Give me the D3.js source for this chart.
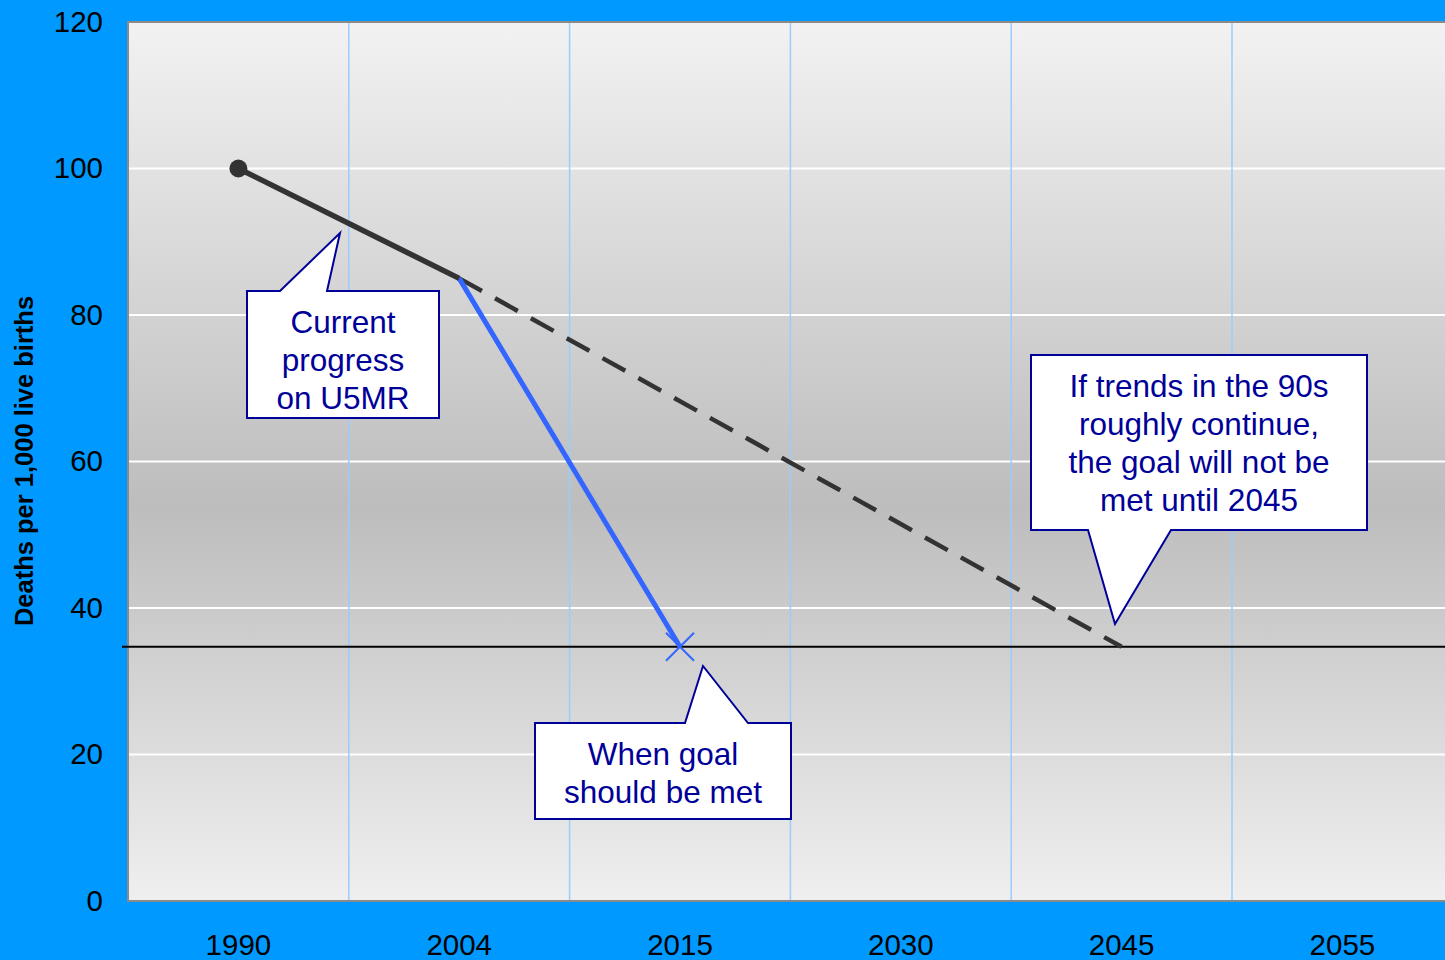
<!DOCTYPE html>
<html>
<head>
<meta charset="utf-8">
<script src="https://cdn.jsdelivr.net/npm/d3@7"></script>
<style>
  html, body { margin: 0; padding: 0; background: #0099ff; overflow: hidden; }
  svg { display: block; font-family: "Liberation Sans", Arial, sans-serif; }
</style>
</head>
<body>
<div id="graph"></div>
<script>
'use strict';

let WIDTH = 1445;
let HEIGHT = 960;
let PLOT = { left: 128, top: 22, bottom: 901, band: 220.8 };

// data
let years = ['1990', '2004', '2015', '2030', '2045', '2055'];
let yTicks = [0, 20, 40, 60, 80, 100, 120];
let progressYears = ['1990', '2004'];
let progressValues = [100, 85];
let trendYears = ['2004', '2045'];
let trendValues = [85, 34.7];
let neededYears = ['2004', '2015'];
let neededValues = [85, 34.7];
let goalValue = 34.7;

let svg = d3.select('#graph')
    .append('svg')
    .attr('width', WIDTH)
    .attr('height', HEIGHT);

let xScale = d3.scaleBand()
    .domain(years)
    .range([PLOT.left, PLOT.left + PLOT.band * years.length]);

let yScale = d3.scaleLinear()
    .domain([0, 120])
    .range([PLOT.bottom, PLOT.top]);

let xMid = d => xScale(d) + xScale.bandwidth() / 2;

// background gradient
let grad = svg.append('defs').append('linearGradient')
    .attr('id', 'bg')
    .attr('x1', 0).attr('y1', 0).attr('x2', 0).attr('y2', 1);
grad.append('stop').attr('offset', '0%').attr('stop-color', '#f2f2f2');
grad.append('stop').attr('offset', '55%').attr('stop-color', '#bdbdbd');
grad.append('stop').attr('offset', '100%').attr('stop-color', '#efefef');

svg.append('rect')
    .attr('x', PLOT.left)
    .attr('y', PLOT.top)
    .attr('width', xScale.range()[1] - PLOT.left)
    .attr('height', PLOT.bottom - PLOT.top)
    .attr('fill', 'url(#bg)')
    .attr('stroke', '#8a8a8a')
    .attr('stroke-width', 2);

// horizontal grid
svg.append('g')
    .selectAll('line')
    .data(yTicks.filter(t => t > 0 && t < 120))
    .enter()
    .append('line')
    .attr('x1', PLOT.left + 1)
    .attr('x2', xScale.range()[1])
    .attr('y1', d => yScale(d))
    .attr('y2', d => yScale(d))
    .attr('stroke', '#ffffff')
    .attr('stroke-width', 2);

// vertical grid between categories
svg.append('g')
    .selectAll('line')
    .data(years.slice(1))
    .enter()
    .append('line')
    .attr('x1', d => xScale(d))
    .attr('x2', d => xScale(d))
    .attr('y1', PLOT.top + 1)
    .attr('y2', PLOT.bottom - 1)
    .attr('stroke', '#99ccff')
    .attr('stroke-width', 1.5);

// axes labels
let yAxis = d3.axisLeft(yScale).tickValues(yTicks).tickSize(0).tickPadding(25);
let gy = svg.append('g')
    .attr('transform', 'translate(' + PLOT.left + ',0)')
    .call(yAxis);
gy.select('.domain').remove();
gy.selectAll('text')
    .attr('font-size', '29.5px')
    .attr('font-family', '"Liberation Sans", Arial, sans-serif')
    .attr('fill', '#000');

let xAxis = d3.axisBottom(xScale).tickSize(0).tickPadding(33);
let gx = svg.append('g')
    .attr('transform', 'translate(0,' + PLOT.bottom + ')')
    .call(xAxis);
gx.select('.domain').remove();
gx.selectAll('text')
    .attr('font-size', '29.5px')
    .attr('font-family', '"Liberation Sans", Arial, sans-serif')
    .attr('fill', '#000');

svg.append('text')
    .attr('transform', 'translate(33,' + 461 + ') rotate(-90)')
    .attr('text-anchor', 'middle')
    .style('font-size', '25.5px')
    .style('font-weight', 'bold')
    .text('Deaths per 1,000 live births');

// goal line
svg.append('line')
    .attr('x1', PLOT.left - 6)
    .attr('x2', WIDTH)
    .attr('y1', yScale(goalValue))
    .attr('y2', yScale(goalValue))
    .attr('stroke', '#000')
    .attr('stroke-width', 2);

let line = d3.line()
    .x(d => xMid(d[0]))
    .y(d => yScale(d[1]));

// trend (dashed)
svg.append('path')
    .attr('d', line(d3.zip(trendYears, trendValues)))
    .attr('fill', 'none')
    .attr('stroke', '#333333')
    .attr('stroke-width', 4.5)
    .attr('stroke-dasharray', '26,15');

// needed progress (blue)
svg.append('path')
    .attr('d', line(d3.zip(neededYears, neededValues)))
    .attr('fill', 'none')
    .attr('stroke', '#3366ff')
    .attr('stroke-width', 5);

let endX = xMid(neededYears[1]);
let endY = yScale(neededValues[1]);
svg.append('path')
    .attr('d', 'M' + (endX - 14) + ',' + (endY - 14) + 'L' + (endX + 14) + ',' + (endY + 14) +
               'M' + (endX - 14) + ',' + (endY + 14) + 'L' + (endX + 14) + ',' + (endY - 14))
    .attr('stroke', '#3366ff')
    .attr('stroke-width', 2);

// current progress
svg.append('path')
    .attr('d', line(d3.zip(progressYears, progressValues)))
    .attr('fill', 'none')
    .attr('stroke', '#333333')
    .attr('stroke-width', 5.5);

svg.append('circle')
    .attr('cx', xMid(progressYears[0]))
    .attr('cy', yScale(progressValues[0]))
    .attr('r', 9)
    .attr('fill', '#333333');

// callouts
let callouts = [
    { box: [247, 291, 439, 418], ptr: [[280, 291], [340, 233], [327, 291]],
      lines: ['Current', 'progress', 'on U5MR'], cx: 343, y0: 333 },
    { box: [535, 723, 791, 819], ptr: [[685, 723], [703, 666], [748, 723]],
      lines: ['When goal', 'should be met'], cx: 663, y0: 765 },
    { box: [1031, 355, 1367, 530], ptr: [[1088, 530], [1115, 624], [1171, 530]],
      lines: ['If trends in the 90s', 'roughly continue,', 'the goal will not be', 'met until 2045'],
      cx: 1199, y0: 397 },
];

callouts.forEach(c => {
    let [x0, y0, x1, y1] = c.box;
    let p = c.ptr;
    let top = p[0][1] === y0;
    let pts;
    if (top) {
        pts = [[x0, y0], p[0], p[1], p[2], [x1, y0], [x1, y1], [x0, y1]];
    } else {
        pts = [[x0, y0], [x1, y0], [x1, y1], p[2], p[1], p[0], [x0, y1]];
    }
    svg.append('path')
        .attr('d', 'M' + pts.map(q => q.join(',')).join('L') + 'Z')
        .attr('fill', '#ffffff')
        .attr('stroke', '#000099')
        .attr('stroke-width', 2);

    svg.append('g')
        .selectAll('text')
        .data(c.lines)
        .enter()
        .append('text')
        .attr('x', c.cx)
        .attr('y', (d, i) => c.y0 + i * 38)
        .attr('text-anchor', 'middle')
        .attr('fill', '#000099')
        .style('font-size', '31.5px')
        .text(d => d);
});
</script>
</body>
</html>
